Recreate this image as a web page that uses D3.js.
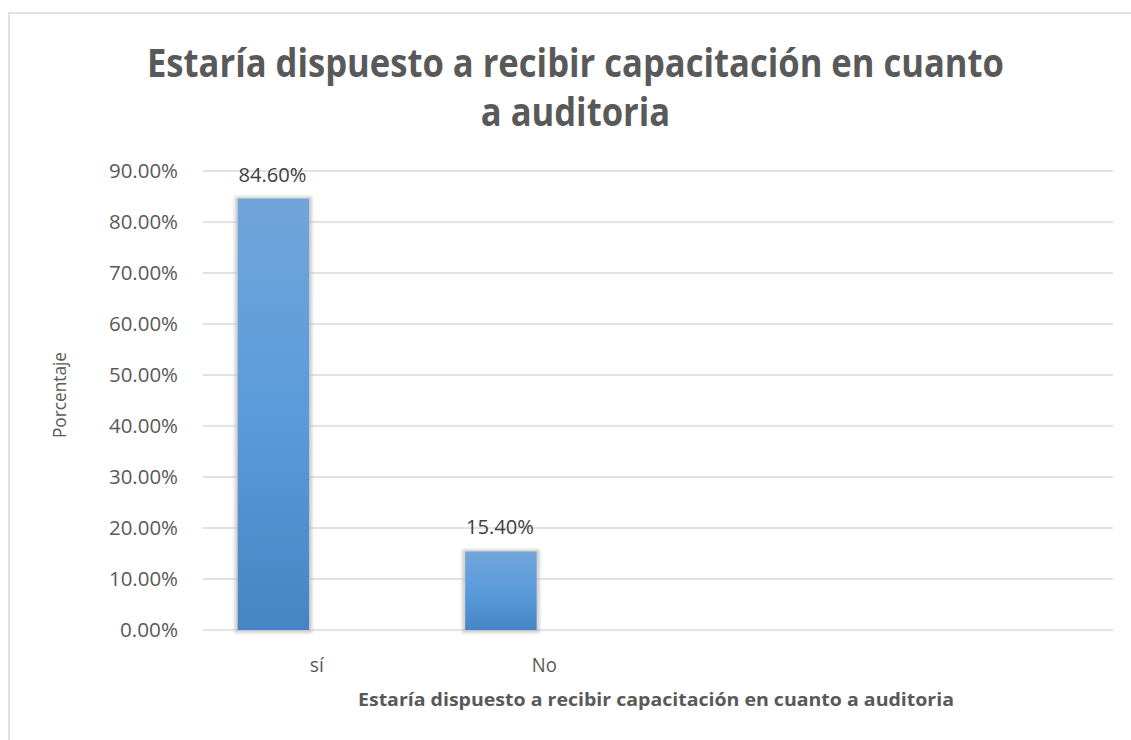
<!DOCTYPE html>
<html>
<head>
<meta charset="utf-8">
<script src="https://cdn.jsdelivr.net/npm/d3@7"></script>
<style>
  html, body { margin: 0; padding: 0; background: #fff; }
  svg { display: block; }
  text { font-family: "Open Sans", "Noto Sans", sans-serif; }
</style>
</head>
<body>
<svg id="chart" width="1131" height="740"></svg>
<script>
// ---- data ----
const titleLines = ["Estaría dispuesto a recibir capacitación en cuanto", "a auditoria"];
const categories = ["sí", "No", "", ""];
const values = [0.846, 0.154, null, null];
const valueLabels = ["84.60%", "15.40%", "", ""];
const yTicks = [0, 0.1, 0.2, 0.3, 0.4, 0.5, 0.6, 0.7, 0.8, 0.9];
const yTickLabels = ["0.00%", "10.00%", "20.00%", "30.00%", "40.00%", "50.00%", "60.00%", "70.00%", "80.00%", "90.00%"];
const yAxisTitle = "Porcentaje";
const xAxisTitle = "Estaría dispuesto a recibir capacitación en cuanto a auditoria";

// ---- layout ----
const plot = { left: 203, right: 1113, top: 171, bottom: 630 };
const svg = d3.select("#chart");

function fitWidth(sel, target) {
  sel.each(function() {
    const w = this.getComputedTextLength();
    if (w > 0 && target > 0) {
      d3.select(this).attr("textLength", target).attr("lengthAdjust", "spacingAndGlyphs");
    }
  });
}

// chart border
svg.append("rect")
  .attr("x", 9).attr("y", 13).attr("width", 1140).attr("height", 740)
  .attr("fill", "#fff").attr("stroke", "#d9d9d9").attr("stroke-width", 1.5);

const x = d3.scaleBand()
  .domain(categories.map((d, i) => i))
  .range([plot.left, plot.right])
  .paddingInner(0).paddingOuter(0);

const y = d3.scaleLinear().domain([0, 0.9]).range([plot.bottom, plot.top]);

const defs = svg.append("defs");
const grad = defs.append("linearGradient").attr("id", "barGrad")
  .attr("x1", 0).attr("y1", 0).attr("x2", 0).attr("y2", 1);
grad.append("stop").attr("offset", "0%").attr("stop-color", "#72a5da");
grad.append("stop").attr("offset", "50%").attr("stop-color", "#5a9bdb");
grad.append("stop").attr("offset", "100%").attr("stop-color", "#4685c4");
const blur = defs.append("filter").attr("id", "shadow")
  .attr("x", "-30%").attr("y", "-30%").attr("width", "160%").attr("height", "160%");
blur.append("feGaussianBlur").attr("stdDeviation", 1.6);

// gridlines
svg.append("g").selectAll("line")
  .data(yTicks)
  .join("line")
  .attr("x1", plot.left).attr("x2", plot.right)
  .attr("y1", d => y(d)).attr("y2", d => y(d))
  .attr("stroke", "#d9d9d9").attr("stroke-width", 1.5);

// y tick labels
const yLab = svg.append("g").selectAll("text")
  .data(yTicks)
  .join("text")
  .attr("x", 178).attr("y", d => y(d) + 7)
  .attr("text-anchor", "end")
  .attr("font-size", 19.5)
  .attr("fill", "#595959")
  .text((d, i) => yTickLabels[i]);
yLab.each(function(d, i) {
  const n = yTickLabels[i].length;
  fitWidth(d3.select(this), n === 6 ? 69 : 58);
});

// bars
const barOffset = 0.1525, barFrac = 0.314;
const barData = values.map((v, i) => ({ i, v })).filter(d => d.v != null);
const bars = svg.append("g");
bars.selectAll("rect.sh")
  .data(barData)
  .join("rect").attr("class", "sh")
  .attr("x", d => x(d.i) + x.bandwidth() * barOffset - 3)
  .attr("y", d => y(d.v) - 2)
  .attr("width", x.bandwidth() * barFrac + 6)
  .attr("height", d => y(0) - y(d.v) + 5)
  .attr("fill", "#bfbfbf")
  .attr("opacity", 0.75)
  .attr("filter", "url(#shadow)");
bars.selectAll("rect.bar")
  .data(barData)
  .join("rect").attr("class", "bar")
  .attr("x", d => x(d.i) + x.bandwidth() * barOffset)
  .attr("y", d => y(d.v))
  .attr("width", x.bandwidth() * barFrac)
  .attr("height", d => y(0) - y(d.v))
  .attr("fill", "url(#barGrad)");

// value labels
const vl = svg.append("g").selectAll("text")
  .data(barData)
  .join("text")
  .attr("x", d => x(d.i) + x.bandwidth() * (barOffset + barFrac / 2) - 1)
  .attr("y", d => y(d.v) - 17)
  .attr("text-anchor", "middle")
  .attr("font-size", 19.5)
  .attr("fill", "#404040")
  .text(d => valueLabels[d.i]);
fitWidth(vl, 68);

// category labels
const cl = svg.append("g").selectAll("text")
  .data(categories.map((c, i) => ({ c, i })).filter(d => d.c !== ""))
  .join("text")
  .attr("x", d => x(d.i) + x.bandwidth() / 2)
  .attr("y", 672)
  .attr("text-anchor", "middle")
  .attr("font-size", 19.5)
  .attr("fill", "#595959")
  .text(d => d.c);
cl.each(function(d) { fitWidth(d3.select(this), d.c === "No" ? 25 : 14); });

// axis titles
const yt = svg.append("text")
  .attr("transform", "translate(65.5,395) rotate(-90)")
  .attr("text-anchor", "middle")
  .attr("font-size", 19)
  .attr("fill", "#595959")
  .text(yAxisTitle);
fitWidth(yt, 86);

const xt = svg.append("text")
  .attr("x", 656).attr("y", 706)
  .attr("text-anchor", "middle")
  .attr("font-size", 18.5)
  .attr("font-weight", "bold")
  .attr("fill", "#595959")
  .text(xAxisTitle);
fitWidth(xt, 596);

// title
const tt = svg.append("g").selectAll("text")
  .data(titleLines)
  .join("text")
  .attr("x", 575.5)
  .attr("y", (d, i) => 77 + i * 49)
  .attr("text-anchor", "middle")
  .attr("font-size", 38.5)
  .attr("font-weight", "bold")
  .attr("fill", "#595959")
  .text(d => d);
const t0 = tt.nodes()[0];
const ratio = 857 / t0.getComputedTextLength();
tt.each(function() {
  const w = this.getComputedTextLength();
  d3.select(this).attr("textLength", w * ratio).attr("lengthAdjust", "spacingAndGlyphs");
});
</script>
</body>
</html>
